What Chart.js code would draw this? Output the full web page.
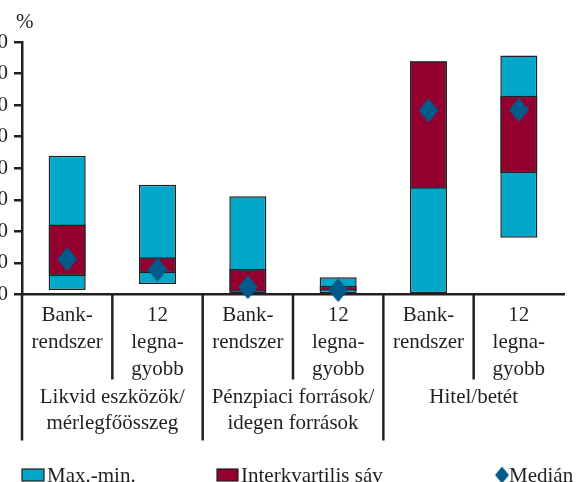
<!DOCTYPE html>
<html>
<head>
<meta charset="utf-8">
<script src="https://cdn.jsdelivr.net/npm/chart.js@4.4.1/dist/chart.umd.min.js"></script>
<style>
  html, body { margin: 0; padding: 0; background: #fff; overflow: hidden; }
  #wrap { position: absolute; left: -40px; top: 0; width: 616px; height: 482px; }
</style>
</head>
<body>
<div id="wrap"><canvas id="chart"></canvas></div>
<script>
const categories = [
  ["Bank-", "rendszer"],
  ["12", "legna-", "gyobb"],
  ["Bank-", "rendszer"],
  ["12", "legna-", "gyobb"],
  ["Bank-", "rendszer"],
  ["12", "legna-", "gyobb"],
];
const groupLabels = [
  ["Likvid eszközök/", "mérlegfőösszeg"],
  ["Pénzpiaci források/", "idegen források"],
  ["Hitel/betét"],
];
const legendLabels = ["Max.-min.", "Interkvartilis sáv", "Medián"];

const maxValues = [88, 69.6, 62.3, 10.9, 147.8, 151.4];
const minValues = [2.8, 6.6, 0.8, 0.8, 0, 36];
const q3Values = [44.4, 23.6, 16.1, 5.4, 147.8, 126];
const q1Values = [11.8, 13.6, 1.8, 2.4, 67, 77];
const medianValues = [22.4, 15.8, 4.6, 2.8, 116.6, 117];

const yMin = 0;
const yMax = 160;
const yStep = 20;

const INK = "#231f20";
const CYAN = "#00a7c9";
const RED = "#94002e";
const NAVY = "#005b8a";
const FAMILY = "'Liberation Serif', 'Times New Roman', serif";
const FONT = `21px ${FAMILY}`;

function diamondImage(w, h, color) {
  const c = document.createElement("canvas");
  c.width = w;
  c.height = h;
  const g = c.getContext("2d");
  g.fillStyle = color;
  g.beginPath();
  g.moveTo(w / 2, 0);
  g.lineTo(w, h / 2);
  g.lineTo(w / 2, h);
  g.lineTo(0, h / 2);
  g.closePath();
  g.fill();
  return c;
}

// dividers under the axis, group names, "%" and the legend
const decorPlugin = {
  id: "decor",
  afterDraw(chart) {
    const { ctx, chartArea, scales } = chart;
    const x = scales.x;
    const step = x.getPixelForValue(1) - x.getPixelForValue(0);
    const axisY = chartArea.bottom;
    const shift = chartArea.left - 22;

    ctx.save();
    ctx.strokeStyle = INK;
    ctx.lineWidth = 2.5;
    categories.forEach((_, i) => {
      const bx = x.getPixelForValue(i) - step / 2;
      const len = i % 2 === 0 ? 146 : 85;
      ctx.beginPath();
      ctx.moveTo(bx, axisY);
      ctx.lineTo(bx, axisY + len);
      ctx.stroke();
    });

    ctx.fillStyle = INK;
    ctx.font = FONT;
    ctx.textAlign = "center";
    ctx.textBaseline = "alphabetic";
    groupLabels.forEach((lines, g) => {
      const cx = (x.getPixelForValue(2 * g) + x.getPixelForValue(2 * g + 1)) / 2;
      lines.forEach((line, k) => ctx.fillText(line, cx, axisY + 108 + k * 26));
    });

    ctx.textAlign = "left";
    ctx.fillText("%", chartArea.left - 6, 28);

    // legend
    const ly = 475;
    ctx.lineWidth = 1.2;
    ctx.fillStyle = CYAN;
    ctx.fillRect(shift + 22, ly - 6, 22, 12);
    ctx.strokeRect(shift + 22, ly - 6, 22, 12);
    ctx.fillStyle = RED;
    ctx.fillRect(shift + 217, ly - 6, 21, 12);
    ctx.strokeRect(shift + 217, ly - 6, 21, 12);
    ctx.drawImage(diamondImage(14, 17, NAVY), shift + 495, ly - 8.5);

    ctx.fillStyle = INK;
    ctx.fillText(legendLabels[0], shift + 47, ly + 6.5);
    ctx.fillText(legendLabels[1], shift + 241, ly + 6.5);
    ctx.fillText(legendLabels[2], shift + 509, ly + 6.5);
    ctx.restore();
  },
};

new Chart(document.getElementById("chart"), {
  type: "bar",
  data: {
    labels: categories,
    datasets: [
      {
        type: "line",
        label: legendLabels[2],
        data: medianValues,
        showLine: false,
        pointStyle: diamondImage(20, 24, NAVY),
        pointRadius: 11,
        clip: false,
        order: 0,
      },
      {
        label: legendLabels[1],
        data: q1Values.map((v, i) => [v, q3Values[i]]),
        backgroundColor: RED,
        borderColor: INK,
        borderWidth: 1.5,
        borderSkipped: false,
        grouped: false,
        barPercentage: 0.41,
        categoryPercentage: 1,
        order: 1,
      },
      {
        label: legendLabels[0],
        data: minValues.map((v, i) => [v, maxValues[i]]),
        backgroundColor: CYAN,
        borderColor: INK,
        borderWidth: 1.5,
        borderSkipped: false,
        grouped: false,
        barPercentage: 0.41,
        categoryPercentage: 1,
        order: 2,
      },
    ],
  },
  options: {
    responsive: true,
    maintainAspectRatio: false,
    animation: false,
    layout: { padding: { top: 42, right: 0, bottom: 0, left: 0 } },
    plugins: {
      legend: { display: false },
      tooltip: { enabled: false },
    },
    scales: {
      x: {
        offset: true,
        grid: { display: false, drawTicks: false },
        border: { display: true, color: INK, width: 2.5 },
        ticks: {
          color: INK,
          font: { family: FAMILY, size: 21, lineHeight: 1.3 },
          padding: 7,
          maxRotation: 0,
          autoSkip: false,
        },
        afterFit(scale) {
          scale.height = 187.5;
        },
      },
      y: {
        min: yMin,
        max: yMax,
        ticks: {
          stepSize: yStep,
          color: INK,
          font: { family: FAMILY, size: 21 },
          padding: 6,
        },
        grid: {
          drawOnChartArea: false,
          drawTicks: true,
          tickLength: 8,
          color: INK,
          lineWidth: 2.5,
        },
        border: { color: INK, width: 2.5 },
        afterFit(scale) {
          scale.width = 62;
        },
      },
    },
  },
  plugins: [decorPlugin],
});
</script>
</body>
</html>
